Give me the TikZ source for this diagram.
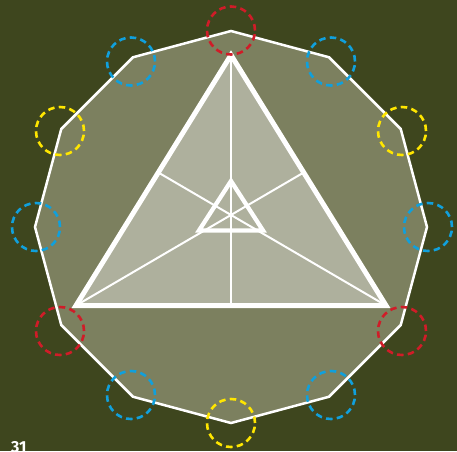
\documentclass[tikz,border=0pt]{standalone}
\usepackage{fontspec}
\setmainfont{Fira Sans}
\definecolor{bgc}{RGB}{62,70,30}
\definecolor{polyc}{RGB}{124,128,95}
\definecolor{tric}{RGB}{174,176,157}
\definecolor{redc}{RGB}{208,28,40}
\definecolor{bluec}{RGB}{16,160,220}
\definecolor{yelc}{RGB}{255,230,0}
\tikzset{
  ring/.style={draw=#1, line width=2.6pt, dash pattern=on 6.5pt off 4.3pt},
  thinline/.style={draw=white, line width=2pt},
  bigtri/.style={draw=white, line width=5pt, line join=miter, fill=tric},
  smalltri/.style={draw=white, line width=4.3pt, line join=miter},
}
\begin{document}
\begin{tikzpicture}[x=1pt,y=-1pt]
\useasboundingbox (0,0) rectangle (457,451);
\fill[bgc] (0,0) rectangle (457,451);
% dodecagon
\foreach \i in {1,...,12} {
  \coordinate (p\i) at ({231+196*cos(90-30*(\i-1))},{227-196*sin(90-30*(\i-1))});
}
\draw[white, line width=2.5pt, fill=polyc, line join=miter]
  (p1)--(p2)--(p3)--(p4)--(p5)--(p6)--(p7)--(p8)--(p9)--(p10)--(p11)--(p12)--cycle;
% big triangle
\coordinate (A) at (231,55);
\coordinate (B) at (76,305.5);
\coordinate (C) at (386,305.5);
\coordinate (M) at (231,305.5);
\coordinate (R) at (303.7,172.5);
\coordinate (L) at (158.3,172.5);
\fill[tric] (A)--(B)--(C)--cycle;
\draw[thinline] (A)--(M);
\draw[thinline] (B)--(R);
\draw[thinline] (C)--(L);
\draw[bigtri, fill=none] (A)--(B)--(C)--cycle;
% small triangle
\coordinate (a) at (231,181);
\coordinate (b) at (199,230.5);
\coordinate (c) at (263,230.5);
\draw[smalltri] (a)--(b)--(c)--cycle;
% dashed rings
\node[circle, minimum size=48pt, ring=redc]  (r1)  at (231,30.5) {};
\node[circle, minimum size=48pt, ring=bluec] (r2)  at (331,61.5) {};
\node[circle, minimum size=48pt, ring=yelc]  (r3)  at (402,131) {};
\node[circle, minimum size=48pt, ring=bluec] (r4)  at (428,227) {};
\node[circle, minimum size=48pt, ring=redc]  (r5)  at (402,331) {};
\node[circle, minimum size=48pt, ring=bluec] (r6)  at (331,395) {};
\node[circle, minimum size=48pt, ring=yelc]  (r7)  at (231,423) {};
\node[circle, minimum size=48pt, ring=bluec] (r8)  at (131,395) {};
\node[circle, minimum size=48pt, ring=redc]  (r9)  at (60,331) {};
\node[circle, minimum size=48pt, ring=bluec] (r10) at (36,227) {};
\node[circle, minimum size=48pt, ring=yelc]  (r11) at (60,131) {};
\node[circle, minimum size=48pt, ring=bluec] (r12) at (131,61.5) {};
% page number
\node[anchor=north west, inner sep=0pt, text=white, font=\fontsize{16pt}{16pt}\selectfont\bfseries] (num) at (11,441.5) {31};
\end{tikzpicture}
\end{document}
